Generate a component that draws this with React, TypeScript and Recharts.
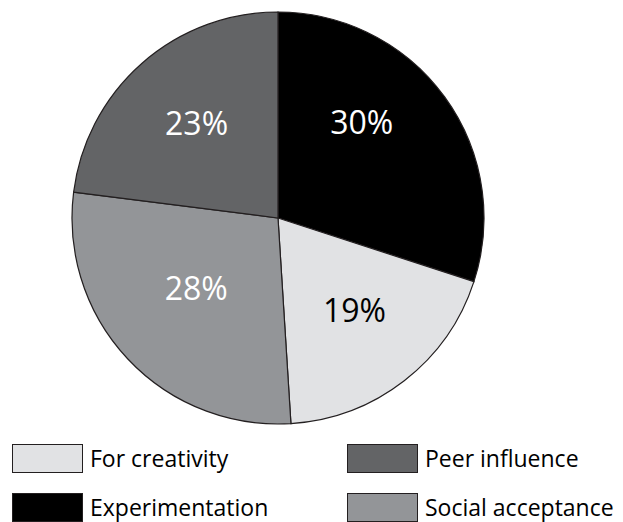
import * as React from "react"
import { PieChart, Pie, Cell, Legend } from "recharts"

// slices, clockwise from 12 o'clock
const categories = ["Experimentation", "For creativity", "Social acceptance", "Peer influence"]
const shares = [30, 19, 28, 23]
const sliceColors = ["#000000", "#e1e2e4", "#939598", "#636466"]
const labelColors = ["#ffffff", "#000000", "#ffffff", "#ffffff"]

// legend reads left-to-right, top-to-bottom
const legendOrder = ["For creativity", "Peer influence", "Experimentation", "Social acceptance"]

const data = categories.map((name, i) => ({ name, value: shares[i] }))

const FONT = "'Open Sans', sans-serif"
const RADIAN = Math.PI / 180

// small angular nudges so labels sit where the original had them
const labelAngleNudge = [13, 2, -3, -1]
const labelRadius = [0.62, 0.58, 0.52, 0.61]

function SliceLabel(props: any) {
    const { cx, cy, midAngle, outerRadius, index, value } = props
    const a = (midAngle + labelAngleNudge[index]) * RADIAN
    const r = outerRadius * labelRadius[index]
    const x = cx + r * Math.cos(a)
    const y = cy - r * Math.sin(a)
    return (
        <text
            x={x}
            y={y}
            fill={labelColors[index]}
            textAnchor="middle"
            dominantBaseline="central"
            fontFamily={FONT}
            fontSize={32}
        >
            {`${value}%`}
        </text>
    )
}

function LegendGrid() {
    return (
        <div
            style={{
                display: "grid",
                gridTemplateColumns: "335px 280px",
                rowGap: 20,
                fontFamily: FONT,
                fontSize: 23,
                color: "#000",
            }}
        >
            {legendOrder.map((name) => {
                const i = categories.indexOf(name)
                return (
                    <div key={name} style={{ display: "flex", alignItems: "center", height: 29 }}>
                        <div
                            style={{
                                width: 69,
                                height: 27,
                                background: sliceColors[i],
                                border: "1px solid #231f20",
                                marginRight: 7,
                            }}
                        />
                        <span style={{ lineHeight: "29px" }}>{name}</span>
                    </div>
                )
            })}
        </div>
    )
}

export default function App() {
    return (
        <div style={{ position: "absolute", left: 0, top: 0, width: 623, height: 522, background: "#fff", overflow: "hidden" }}>
            <PieChart width={623} height={522} margin={{ top: 0, right: 0, bottom: 0, left: 0 }}>
                <Pie
                    data={data}
                    dataKey="value"
                    nameKey="name"
                    cx={278}
                    cy={218}
                    outerRadius={206}
                    startAngle={90}
                    endAngle={-270}
                    stroke="#231f20"
                    strokeWidth={1.2}
                    label={SliceLabel}
                    labelLine={false}
                    isAnimationActive={false}
                >
                    {data.map((d, i) => (
                        <Cell key={d.name} fill={sliceColors[i]} />
                    ))}
                </Pie>
                <Legend
                    content={() => <LegendGrid />}
                    wrapperStyle={{ position: "absolute", left: 12, top: 444, width: 615 }}
                />
            </PieChart>
        </div>
    )
}
